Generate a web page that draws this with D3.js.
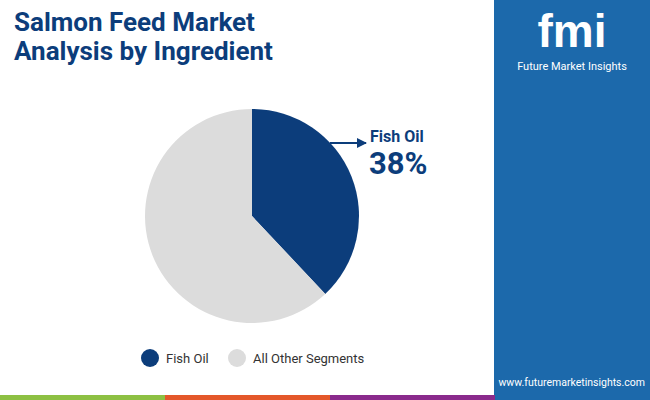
<!DOCTYPE html>
<html><head><meta charset="utf-8">
<script src="https://cdn.jsdelivr.net/npm/d3@7"></script>
<style>body{margin:0;background:#fff}svg{display:block;font-family:Roboto,sans-serif}</style>
</head><body><div id="chart"></div>
<script>
const categories = ["Fish Oil", "All Other Segments"];
const values = [38, 62];
const colors = ["#0c3d7b", "#dcdcdc"];

const width = 650, height = 400;
const svg = d3.select("#chart").append("svg").attr("width", width).attr("height", height);

// right brand panel
svg.append("rect").attr("x", 494).attr("y", 0).attr("width", 156).attr("height", 400).attr("fill", "#1c69ab");
svg.append("text").attr("x", 572).attr("y", 47).attr("text-anchor", "middle")
  .attr("fill", "#fff").attr("font-size", 46).attr("font-weight", 900).attr("font-family", "Arial Black, sans-serif").text("fmi");
svg.append("text").attr("x", 572).attr("y", 70).attr("text-anchor", "middle")
  .attr("fill", "#fff").attr("font-size", 11).text("Future Market Insights");
svg.append("text").attr("x", 645).attr("y", 386).attr("text-anchor", "end")
  .attr("fill", "#fff").attr("font-size", 10.5).text("www.futuremarketinsights.com");

// bottom stripe
const stripe = ["#8dc043", "#e4572a", "#8a2a8c"];
stripe.forEach((c, i) => svg.append("rect").attr("x", i * 165).attr("y", 395).attr("width", 165).attr("height", 5).attr("fill", c));

// title
svg.append("text").attr("x", 14).attr("y", 31).attr("fill", "#0c3d7b").attr("font-size", 26).attr("font-weight", 700).text("Salmon Feed Market");
svg.append("text").attr("x", 14).attr("y", 60).attr("fill", "#0c3d7b").attr("font-size", 26).attr("font-weight", 700).text("Analysis by Ingredient");

// pie
const cx = 252, cy = 216, r = 107;
const pie = d3.pie().sort(null)(values);
const arc = d3.arc().innerRadius(0).outerRadius(r);
svg.append("g").attr("transform", `translate(${cx},${cy})`)
  .selectAll("path").data(pie).join("path")
  .attr("d", arc).attr("fill", (d, i) => colors[i]);

// annotation
svg.append("defs").append("marker").attr("id", "ah").attr("viewBox", "0 0 10 10")
  .attr("refX", 9).attr("refY", 5).attr("markerWidth", 5).attr("markerHeight", 5).attr("orient", "auto")
  .append("path").attr("d", "M0,0L10,5L0,10z").attr("fill", "#0c3d7b");
svg.append("line").attr("x1", 330).attr("y1", 143).attr("x2", 366).attr("y2", 143)
  .attr("stroke", "#0c3d7b").attr("stroke-width", 2).attr("marker-end", "url(#ah)");
svg.append("text").attr("x", 370).attr("y", 142).attr("fill", "#0c3d7b").attr("font-size", 16).attr("font-weight", 700).text(categories[0]);
svg.append("text").attr("x", 369).attr("y", 174).attr("fill", "#0c3d7b").attr("font-size", 31).attr("font-weight", 700).text(values[0] + "%");

// legend
const lx = [150, 237];
categories.forEach((c, i) => {
  svg.append("circle").attr("cx", lx[i]).attr("cy", 358).attr("r", 9).attr("fill", colors[i]);
  svg.append("text").attr("x", lx[i] + 16).attr("y", 363).attr("fill", "#333").attr("font-size", 13).text(c);
});
</script></body></html>
